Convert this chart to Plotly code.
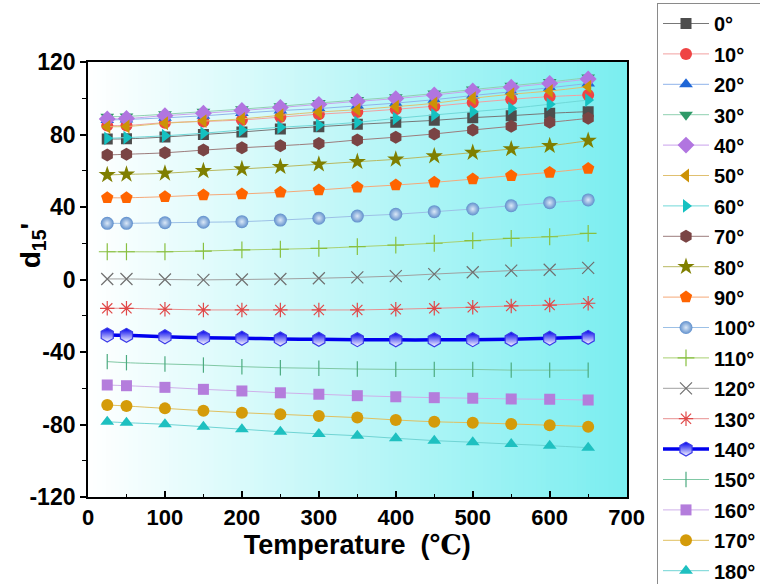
import plotly.graph_objects as go

temps = [25, 50, 100, 150, 200, 250, 300, 350, 400, 450, 500, 550, 600, 650]

angles = ["0°", "10°", "20°", "30°", "40°", "50°", "60°", "70°", "80°", "90°",
          "100°", "110°", "120°", "130°", "140°", "150°", "160°", "170°", "180°"]

x_ticks = [0, 100, 200, 300, 400, 500, 600, 700]
y_ticks = [-120, -80, -40, 0, 40, 80, 120]
y_tick_labels = ["-120", "-80", "-40", "0", "40", "80", "120"]

d0 = [77.5, 77.6, 78.6, 80.0, 81.4, 83.0, 84.3, 85.6, 86.7, 87.8, 89.3, 90.4, 91.7, 92.6]
d10 = [84.9, 85.0, 86.5, 87.2, 88.0, 89.6, 91.2, 92.4, 93.9, 95.6, 97.6, 99.4, 100.9, 101.8]
d20 = [88.0, 88.3, 89.2, 90.3, 91.8, 93.2, 94.3, 95.8, 97.3, 99.2, 101.5, 103.6, 105.8, 108.2]
d30 = [89.8, 90.0, 91.2, 92.6, 94.0, 95.6, 97.4, 99.0, 100.6, 102.6, 104.8, 106.9, 109.0, 111.4]
d40 = [88.6, 88.8, 90.4, 91.7, 93.2, 94.9, 96.6, 98.3, 99.8, 101.8, 104.0, 106.1, 108.2, 110.6]
d50 = [84.3, 84.4, 86.2, 87.4, 88.6, 90.6, 92.4, 93.7, 95.4, 97.2, 100.0, 102.2, 104.0, 106.4]
d60 = [77.9, 78.3, 79.3, 80.7, 82.5, 84.0, 85.2, 86.7, 88.9, 90.8, 92.6, 94.4, 96.7, 99.0]
d70 = [68.7, 69.1, 69.9, 71.4, 72.7, 73.8, 75.1, 77.0, 78.5, 80.3, 82.5, 84.5, 86.7, 88.9]
d80 = [57.7, 58.0, 58.6, 59.9, 61.0, 62.2, 63.6, 65.0, 66.3, 68.1, 70.0, 72.0, 73.8, 76.6]
d90 = [45.1, 45.1, 45.7, 46.6, 47.2, 48.1, 49.4, 50.9, 52.1, 53.6, 55.4, 57.3, 59.1, 61.3]
d100 = [31.0, 31.0, 31.3, 31.6, 31.9, 32.8, 33.8, 35.0, 36.0, 37.4, 38.9, 40.7, 42.4, 43.9]
d110 = [15.3, 15.3, 15.3, 15.7, 16.3, 16.7, 17.2, 18.1, 19.0, 20.0, 21.4, 22.7, 23.6, 25.5]
d120 = [0.3, 0.3, 0.0, -0.2, 0.0, 0.3, 0.7, 1.2, 1.9, 3.0, 4.0, 4.9, 5.4, 6.4]
d130 = [-15.9, -15.9, -16.4, -16.8, -16.8, -16.8, -16.8, -16.8, -16.4, -15.9, -15.3, -14.6, -14.1, -13.1]
d140 = [-30.6, -30.8, -31.6, -32.1, -32.4, -32.8, -33.0, -33.2, -33.3, -33.3, -33.2, -33.0, -32.4, -31.9]
d150 = [-45.3, -45.9, -46.6, -47.2, -48.1, -48.7, -49.0, -49.4, -49.6, -49.6, -49.6, -50.0, -50.0, -50.0]
d160 = [-58.2, -58.6, -59.5, -60.6, -61.5, -62.5, -63.3, -64.1, -64.7, -65.2, -65.5, -65.9, -66.1, -66.5]
d170 = [-69.2, -69.8, -71.1, -72.4, -73.5, -74.4, -75.3, -76.2, -77.5, -78.5, -79.0, -79.7, -80.4, -81.2]
d180 = [-78.5, -79.0, -79.9, -81.2, -82.6, -84.0, -85.2, -86.2, -87.6, -88.9, -89.8, -90.8, -91.7, -92.8]

series = [d0, d10, d20, d30, d40, d50, d60, d70, d80, d90,
          d100, d110, d120, d130, d140, d150, d160, d170, d180]

# style per series: (symbol, marker color, line color, marker size)
styles = [
    ("square", "#4d4d4d", "#777777", 11),
    ("circle", "#ef4444", "#f2a0a0", 12),
    ("triangle-up", "#1f66d6", "#8fb3ea", 12),
    ("triangle-down", "#2f9a68", "#8fd0b0", 12),
    ("diamond", "#b175e0", "#c9a2ec", 13),
    ("triangle-left", "#cc9206", "#e0c070", 12),
    ("triangle-right", "#15c1c1", "#70d8d8", 12),
    ("hexagon", "#7a4444", "#9c7c7c", 13),
    ("star", "#7f7f00", "#b8b860", 13),
    ("pentagon", "#ff6400", "#f5a878", 13),
    ("circle", "#5f8fcc", "#9cc0e6", 13),
    ("cross-thin", "#88c040", "#a8d070", 12),
    ("x-thin", "#707070", "#a0a0a0", 12),
    ("asterisk", "#e04848", "#e89090", 12),
    ("hexagon", "#0000ee", "#0000ee", 14),
    ("line-ns", "#4cab80", "#80c8a4", 11),
    ("square", "#b47ddc", "#cfb0ea", 11),
    ("circle", "#d49b0a", "#e0c060", 12),
    ("triangle-up", "#1ec0c0", "#70d4d4", 12),
]

fig = go.Figure()

# gradient background (white -> cyan) drawn as thin strips
n = 120
c0 = (255, 255, 255)
c1 = (122, 238, 240)
shapes = []
for i in range(n):
    t = (i + 0.5) / n
    col = tuple(int(round(c0[k] + (c1[k] - c0[k]) * t)) for k in range(3))
    shapes.append(dict(type="rect", xref="x domain", yref="y domain",
                       x0=i / n, x1=(i + 1) / n + 0.002, y0=0, y1=1,
                       fillcolor="rgb(%d,%d,%d)" % col, line=dict(width=0),
                       layer="below"))

for name, ys, (sym, mc, lc, ms) in zip(angles, series, styles):
    lw = 1
    marker = dict(symbol=sym, color=mc, size=ms, line=dict(width=0, color=mc))
    if sym in ("cross-thin", "x-thin", "asterisk", "line-ns"):
        marker["line"] = dict(width=1.2, color=mc)
    if name == "100°":
        marker["gradient"] = dict(type="radial", color="#dbe8f7")
    if name == "140°":
        lw = 3.5
        marker = dict(symbol=sym, color="#0000ee", size=ms,
                      gradient=dict(type="vertical", color="white"),
                      line=dict(width=1.2, color="#3b3be8"))
    fig.add_trace(go.Scatter(
        x=temps, y=ys, name=name, mode="lines+markers",
        line=dict(color=lc, width=lw, shape="spline"),
        marker=marker, legendgroup=name,
    ))

font_family = "Arial, Liberation Sans, sans-serif"

fig.update_layout(
    width=760, height=584,
    margin=dict(l=88, r=130, t=62, b=87),
    paper_bgcolor="white",
    plot_bgcolor="white",
    shapes=shapes,
    font=dict(family=font_family, color="black"),
    showlegend=True,
    legend=dict(
        xref="container", yref="container",
        x=657 / 760, y=1 - 3 / 584, xanchor="left", yanchor="top",
        bgcolor="white", bordercolor="#8a8a8a", borderwidth=1,
        font=dict(family=font_family, size=20, color="black", weight="bold"),
        tracegroupgap=1.4, itemwidth=46, entrywidth=140,
        maxheight=2000,
    ),
    xaxis=dict(
        range=[0, 700], tickvals=x_ticks,
        ticks="inside", ticklen=6, tickwidth=1.5, tickcolor="black",
        minor=dict(dtick=50, tick0=0, ticks="inside", ticklen=3, tickwidth=1.2, tickcolor="black"),
        showline=True, linecolor="black", linewidth=1.8, mirror=True,
        showgrid=False, zeroline=False,
        tickfont=dict(size=22, family=font_family, weight="bold"),
        title=dict(text="Temperature  (<span style='font-family:Liberation Serif, DejaVu Serif, serif'>℃</span>)",
                   font=dict(size=27, family=font_family, weight="bold"), standoff=4),
    ),
    yaxis=dict(
        range=[-120, 120], tickvals=y_ticks, ticktext=y_tick_labels,
        ticks="outside", ticklen=6, tickwidth=1.5, tickcolor="black",
        minor=dict(dtick=20, tick0=0, ticks="outside", ticklen=4, tickwidth=1.2, tickcolor="black"),
        showline=True, linecolor="black", linewidth=1.8, mirror=True,
        showgrid=False, zeroline=False,
        tickfont=dict(size=23, family=font_family, weight="bold"),
    ),
    annotations=[dict(
        text="d<sub>15</sub>'", xref="paper", yref="paper",
        x=-(88 - 33) / 542, y=(497 - 245) / 435, xanchor="center", yanchor="middle",
        textangle=-90, showarrow=False,
        font=dict(size=28, family=font_family, weight="bold", color="black"),
    )],
)

fig.write_html("out.html")
